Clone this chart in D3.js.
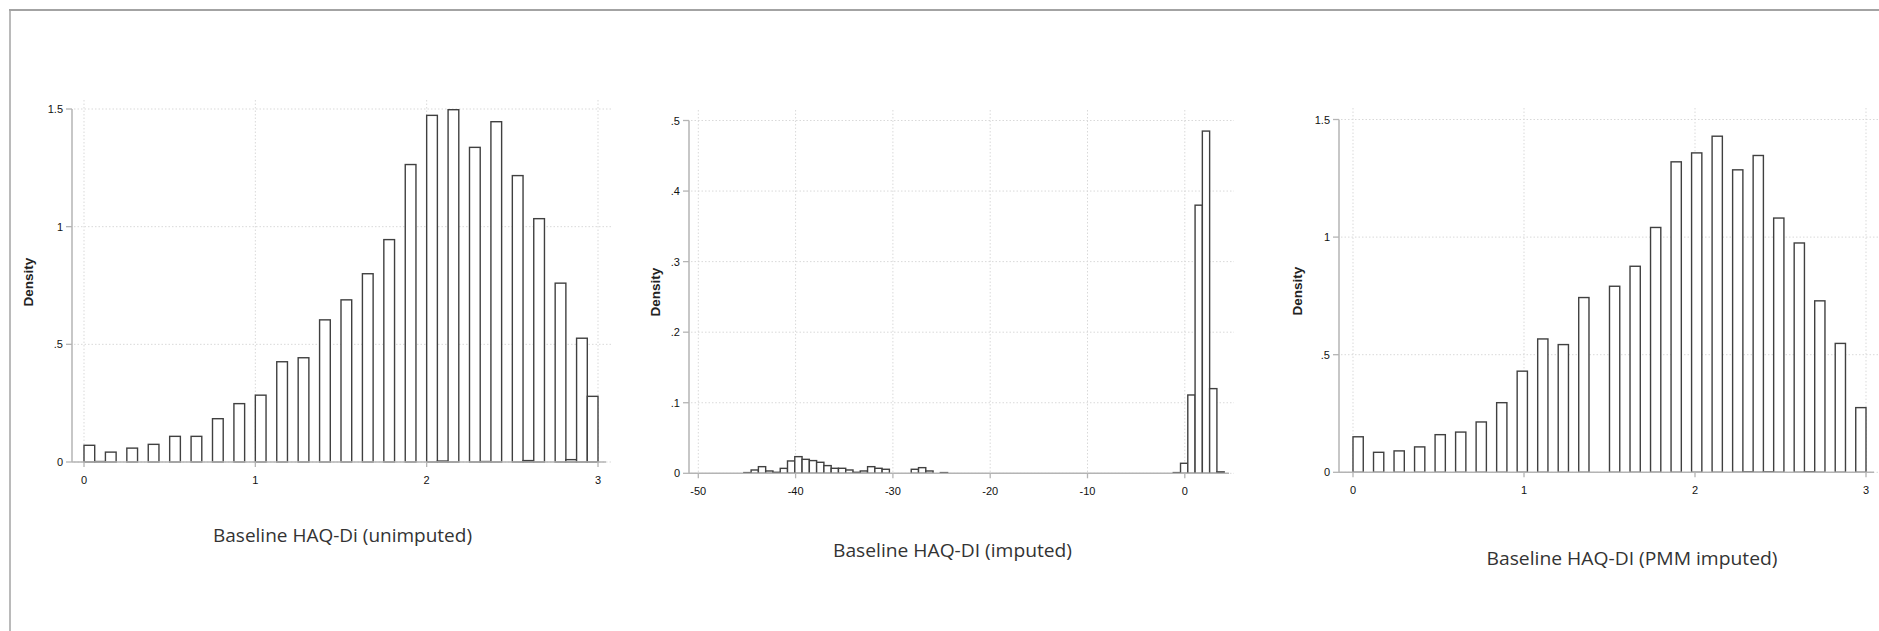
<!DOCTYPE html>
<html><head><meta charset="utf-8">
<script src="https://cdn.jsdelivr.net/npm/d3@7"></script>
<style>body{margin:0;background:#fff}svg{display:block}</style>
</head><body><svg id="c" width="1879" height="631"></svg>
<script>
// ---------- DATA ----------
// Panel 1: Baseline HAQ-Di (unimputed) — 48 bins, width 0.0625, starting at 0
const unimputedBinStart = 0;
const unimputedBinWidth = 0.0625;
const unimputedDensity = [
  0.071, 0.002, 0.042, 0, 0.059, 0, 0.075, 0, 0.109, 0, 0.109, 0,
  0.184, 0, 0.248, 0, 0.284, 0, 0.426, 0, 0.443, 0, 0.604, 0,
  0.689, 0, 0.800, 0, 0.945, 0, 1.264, 0, 1.473, 0.004, 1.497, 0,
  1.337, 0.002, 1.446, 0, 1.217, 0.006, 1.034, 0, 0.760, 0.010, 0.526, 0.279
];
const unimputedXTicks = [0, 1, 2, 3];
const unimputedXTickLabels = ["0", "1", "2", "3"];
const unimputedYTicks = [0, 0.5, 1, 1.5];
const unimputedYTickLabels = ["0", ".5", "1", "1.5"];
const unimputedTitle = "Baseline HAQ-Di (unimputed)";

// Panel 2: Baseline HAQ-DI (imputed) — 66 bins, width 0.748, starting at -45.32
const imputedBinStart = -45.32;
const imputedBinWidth = 0.748;
const imputedDensity = [
  0.001, 0.0047, 0.0094, 0.0033, 0.0014, 0.0070, 0.0175, 0.0236, 0.0198, 0.0180,
  0.0156, 0.0109, 0.0071, 0.0071, 0.0047, 0.0014, 0.0033, 0.0094, 0.0071, 0.0057,
  0, 0, 0, 0.0057, 0.0080, 0.0033, 0, 0.001, 0, 0,
  0, 0, 0, 0, 0, 0, 0, 0, 0, 0,
  0, 0, 0, 0, 0, 0, 0, 0, 0, 0,
  0, 0, 0, 0, 0, 0, 0, 0, 0, 0.001,
  0.0142, 0.111, 0.380, 0.485, 0.120, 0.002
];
const imputedXTicks = [-50, -40, -30, -20, -10, 0];
const imputedXTickLabels = ["-50", "-40", "-30", "-20", "-10", "0"];
const imputedYTicks = [0, 0.1, 0.2, 0.3, 0.4, 0.5];
const imputedYTickLabels = ["0", ".1", ".2", ".3", ".4", ".5"];
const imputedTitle = "Baseline HAQ-DI (imputed)";

// Panel 3: Baseline HAQ-DI (PMM imputed) — 50 bins, width 0.06, starting at 0
const pmmBinStart = 0;
const pmmBinWidth = 0.06;
const pmmDensity = [
  0.151, 0, 0.085, 0, 0.091, 0, 0.108, 0, 0.160, 0,
  0.171, 0, 0.214, 0, 0.296, 0, 0.430, 0, 0.567, 0,
  0.543, 0, 0.743, 0, 0, 0.791, 0, 0.876, 0, 1.041,
  0, 1.320, 0, 1.358, 0, 1.429, 0, 1.286, 0.002, 1.347,
  0.002, 1.081, 0, 0.975, 0.002, 0.729, 0, 0.548, 0, 0.275
];
const pmmXTicks = [0, 1, 2, 3];
const pmmXTickLabels = ["0", "1", "2", "3"];
const pmmYTicks = [0, 0.5, 1, 1.5];
const pmmYTickLabels = ["0", ".5", "1", "1.5"];
const pmmTitle = "Baseline HAQ-DI (PMM imputed)";

const yAxisTitle = "Density";

// ---------- LAYOUT ----------
const svg = d3.select("#c");
svg.append("rect").attr("width", 1879).attr("height", 631).attr("fill", "#fff");
// window frame
svg.append("line").attr("x1", 9).attr("x2", 1879).attr("y1", 10).attr("y2", 10)
  .attr("stroke", "#a3a3a3").attr("stroke-width", 2);
svg.append("line").attr("x1", 10).attr("x2", 10).attr("y1", 9).attr("y2", 631)
  .attr("stroke", "#a3a3a3").attr("stroke-width", 1.5);

const panels = [
  { start: unimputedBinStart, width: unimputedBinWidth, dens: unimputedDensity,
    xt: unimputedXTicks, xl: unimputedXTickLabels, yt: unimputedYTicks, yl: unimputedYTickLabels,
    title: unimputedTitle,
    xDom: [0, 3], xRng: [84, 598], yDom: [0, 1.5], yRng: [462, 109],
    axisX: 72, top: 100, right: 611, densX: 28, densY: 282,
    titleX: 342.5, titleY: 542, titleW: 259 },
  { start: imputedBinStart, width: imputedBinWidth, dens: imputedDensity,
    xt: imputedXTicks, xl: imputedXTickLabels, yt: imputedYTicks, yl: imputedYTickLabels,
    title: imputedTitle,
    xDom: [-50, 0], xRng: [698.3, 1184.8], yDom: [0, 0.5], yRng: [473.3, 120.5],
    axisX: 689, top: 110, right: 1234, densX: 655, densY: 292,
    titleX: 952.5, titleY: 557, titleW: 239 },
  { start: pmmBinStart, width: pmmBinWidth, dens: pmmDensity,
    xt: pmmXTicks, xl: pmmXTickLabels, yt: pmmYTicks, yl: pmmYTickLabels,
    title: pmmTitle,
    xDom: [0, 3], xRng: [1353, 1866], yDom: [0, 1.5], yRng: [472.3, 119.5],
    axisX: 1339, top: 108, right: 1879, densX: 1297, densY: 291,
    titleX: 1632, titleY: 565, titleW: 291 }
];

const gridCol = "#d9d9d9", axisCol = "#b4b4b4", barCol = "#404040";
const tickFont = "'Liberation Sans', Arial, sans-serif";

panels.forEach(p => {
  const x = d3.scaleLinear().domain(p.xDom).range(p.xRng);
  const y = d3.scaleLinear().domain(p.yDom).range(p.yRng);
  const g = svg.append("g");
  const base = y(0);

  // gridlines
  g.selectAll(".hg").data(p.yt).join("line")
    .attr("x1", p.axisX + 2).attr("x2", p.right)
    .attr("y1", d => y(d)).attr("y2", d => y(d))
    .attr("stroke", gridCol).attr("stroke-width", 1).attr("stroke-dasharray", "1.5,2");
  g.selectAll(".vg").data(p.xt).join("line")
    .attr("x1", d => x(d)).attr("x2", d => x(d))
    .attr("y1", p.top).attr("y2", base)
    .attr("stroke", gridCol).attr("stroke-width", 1).attr("stroke-dasharray", "1.5,2");

  // bars
  const bins = p.dens.map((d, i) => ({ x0: p.start + i * p.width, x1: p.start + (i + 1) * p.width, d }))
    .filter(b => b.d > 0);
  g.selectAll(".bar").data(bins).join("rect")
    .attr("x", b => x(b.x0)).attr("width", b => x(b.x1) - x(b.x0))
    .attr("y", b => y(b.d)).attr("height", b => Math.max(0.01, base - y(b.d)))
    .attr("fill", "#fff").attr("stroke", barCol).attr("stroke-width", 1.4);

  // axes lines
  g.append("line").attr("x1", p.axisX).attr("x2", p.axisX)
    .attr("y1", y(p.yt[p.yt.length - 1])).attr("y2", base)
    .attr("stroke", axisCol).attr("stroke-width", 1.5);
  g.append("line").attr("x1", p.axisX).attr("x2", p.right - 5)
    .attr("y1", base).attr("y2", base)
    .attr("stroke", axisCol).attr("stroke-width", 1.5);

  // y ticks
  g.selectAll(".yt").data(p.yt).join("line")
    .attr("x1", p.axisX - 6).attr("x2", p.axisX)
    .attr("y1", d => y(d)).attr("y2", d => y(d))
    .attr("stroke", axisCol).attr("stroke-width", 1.3);
  g.selectAll(".yl").data(p.yt).join("text")
    .attr("x", p.axisX - 9).attr("y", d => y(d))
    .attr("text-anchor", "end").attr("dominant-baseline", "central")
    .attr("font-family", tickFont).attr("font-size", 11).attr("fill", "#111")
    .text((d, i) => p.yl[i]);

  // x ticks
  g.selectAll(".xt").data(p.xt).join("line")
    .attr("x1", d => x(d)).attr("x2", d => x(d))
    .attr("y1", base).attr("y2", base + 5)
    .attr("stroke", axisCol).attr("stroke-width", 1.3);
  g.selectAll(".xl").data(p.xt).join("text")
    .attr("x", d => x(d)).attr("y", base + 18)
    .attr("text-anchor", "middle").attr("dominant-baseline", "central")
    .attr("font-family", tickFont).attr("font-size", 11).attr("fill", "#111")
    .text((d, i) => p.xl[i]);

  // y title
  g.append("text")
    .attr("transform", `translate(${p.densX},${p.densY}) rotate(-90)`)
    .attr("text-anchor", "middle").attr("dominant-baseline", "central")
    .attr("font-family", tickFont).attr("font-size", 13.5).attr("font-weight", "bold")
    .attr("fill", "#222").text(yAxisTitle);

  // x title
  g.append("text")
    .attr("x", p.titleX).attr("y", p.titleY)
    .attr("text-anchor", "middle")
    .attr("font-family", "'Open Sans', 'Noto Sans', sans-serif").attr("font-size", 18.5)
    .attr("fill", "#333")
    .attr("textLength", p.titleW).attr("lengthAdjust", "spacingAndGlyphs")
    .text(p.title);
});
</script></body></html>
